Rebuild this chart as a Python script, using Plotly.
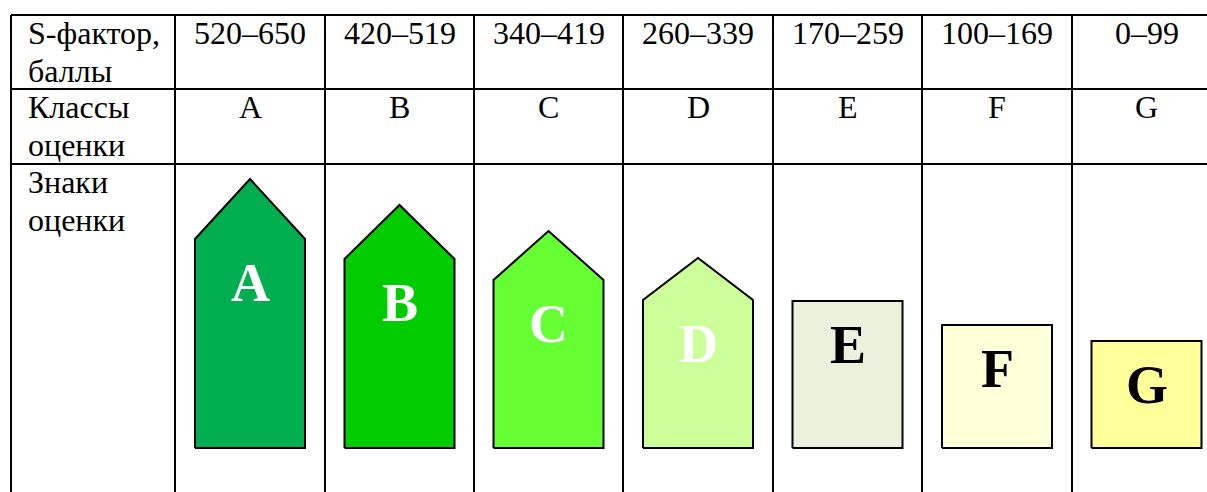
"""Energy-style rating signs table (S-factor classes A-G)."""

import plotly.graph_objects as go

# Table content
row_labels = [["S-фактор,", "баллы"], ["Классы", "оценки"], ["Знаки", "оценки"]]
score_ranges = ["520–650", "420–519", "340–419", "260–339", "170–259", "100–169", "0–99"]
classes = ["A", "B", "C", "D", "E", "F", "G"]

# Sign heights above the common base (body = vertical side, peak = arrow tip)
sign_body = [209, 189, 168, 148, 147, 123, 107]
sign_peak = [269, 243, 217, 190, None, None, None]

sign_colors = ["#00AE4F", "#00CC00", "#66FF33", "#CCFF99", "#EAF1DD", "#FFFFD8", "#FFFF99"]
letter_colors = ["white", "white", "white", "white", "black", "black", "black"]

# Layout of the table in page pixels (y measured upward from sign base)
W, H = 1207, 492
BASE = 448
col_edges = [11, 175, 325, 474, 623, 773, 922, 1072, 1221]
row_edges = [15, 89, 164, 560]
SIGN_W = 110
FONT = "Liberation Serif, Times New Roman, serif"


def ypix(p):
    return BASE - p


fig = go.Figure()

# Signs
for i, cls in enumerate(classes):
    cx = (col_edges[i + 1] + col_edges[i + 2]) / 2
    x0, x1 = cx - SIGN_W / 2, cx + SIGN_W / 2
    body = sign_body[i]
    if sign_peak[i] is None:
        xs = [x0, x0, x1, x1, x0]
        ys = [0, body, body, 0, 0]
    else:
        xs = [x0, x0, cx, x1, x1, x0]
        ys = [0, body, sign_peak[i], body, 0, 0]
    fig.add_trace(
        go.Scatter(
            x=xs,
            y=ys,
            mode="lines",
            fill="toself",
            fillcolor=sign_colors[i],
            line=dict(color="black", width=2),
            hoverinfo="skip",
            showlegend=False,
        )
    )
    # letter sits a fixed distance below the top of the body
    fig.add_annotation(
        x=cx,
        y=body - 44,
        text=f"<b>{cls}</b>",
        showarrow=False,
        font=dict(family=FONT, size=54, color=letter_colors[i]),
        yanchor="middle",
    )

# Grid lines
for xe in col_edges:
    fig.add_shape(type="line", x0=xe, x1=xe, y0=ypix(row_edges[0]), y1=ypix(row_edges[-1]),
                  line=dict(color="black", width=2))
for ye in row_edges[:-1]:
    fig.add_shape(type="line", x0=col_edges[0], x1=col_edges[-1], y0=ypix(ye), y1=ypix(ye),
                  line=dict(color="black", width=2))

# Text cells
LINE_GAP = 38
for r, lines in enumerate(row_labels):
    for k, txt in enumerate(lines):
        fig.add_annotation(
            x=26, y=ypix(row_edges[r] + 31 + k * LINE_GAP), text=txt, showarrow=False,
            xanchor="left", yanchor="bottom", yshift=-7,
            font=dict(family=FONT, size=32, color="black"),
        )
for i in range(7):
    cx = (col_edges[i + 1] + col_edges[i + 2]) / 2
    for r, txt in enumerate([score_ranges[i], classes[i]]):
        fig.add_annotation(
            x=cx, y=ypix(row_edges[r] + 31), text=txt, showarrow=False,
            xanchor="center", yanchor="bottom", yshift=-7,
            font=dict(family=FONT, size=32, color="black"),
        )

fig.update_layout(
    width=W,
    height=H,
    margin=dict(l=0, r=0, t=0, b=0),
    paper_bgcolor="white",
    plot_bgcolor="white",
    xaxis=dict(range=[0, W], visible=False, fixedrange=True),
    yaxis=dict(range=[BASE - H, BASE], visible=False, fixedrange=True),
)

# drop the default page margin so the figure fills the window
fig.write_html(
    "out.html",
    config={"displayModeBar": False},
    post_script="document.body.style.margin='0';",
)
